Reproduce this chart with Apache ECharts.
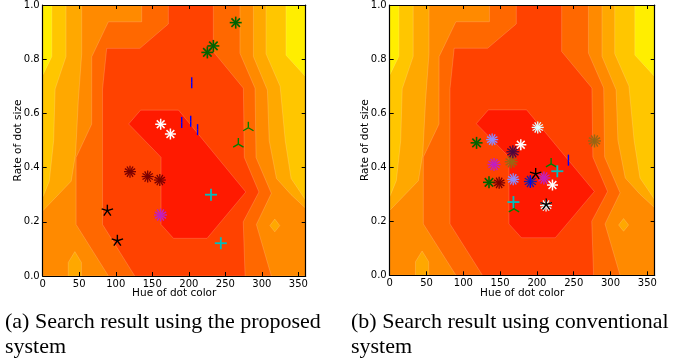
<!DOCTYPE html>
<html>
<head>
<meta charset="utf-8">
<script src="https://cdn.jsdelivr.net/npm/echarts/dist/echarts.min.js"></script>
<style>
html,body{margin:0;padding:0;background:#fff;}
#chart{width:686px;height:362px;}
</style>
</head>
<body>
<div id="chart"></div>
<script>
// ================= DATA =================
const hueMin = 0, hueMax = 360, hueStep = 50;
const rateMin = 0, rateMax = 1, rateStep = 0.2;
const xAxisTitle = 'Hue of dot color';
const yAxisTitle = 'Rate of dot size';
const captionA = ['(a) Search result using the proposed', 'system'];
const captionB = ['(b) Search result using conventional', 'system'];

// Contour field (same surface in both panels): outline [hue, rate] of the region
// whose value is at or above each contour level.
const levelAbove0 = [[0,0],[360,0],[360,1],[0,1]];
const levelAbove1 = [[0,0],[360,0],[360,0.735],[333,0.815],[333,1],[12.5,1],[12.5,0.81],[0,0.74]];
const levelAbove2 = [[0,0],[360,0],[360,0.28],[340,0.36],[332,0.5],[325,0.70],[305.7,0.82],[305.7,1],[31.9,1],[31.9,0.81],[17,0.69],[15,0.5],[9,0.35],[0,0.29]];
const levelAbove3 = [[0,0],[360,0],[360,0.25],[340,0.30],[320,0.36],[310,0.5],[307.6,0.686],[288.4,0.81],[288.4,1],[53.4,1],[53.4,0.82],[48.8,0.65],[45,0.45],[39,0.35],[0,0.24]];
const level3Pockets = [
  [[35,0],[35,0.05],[44,0.09],[53,0.05],[53,0]],
  [[311,0.186],[317.7,0.21],[324.5,0.186],[317.7,0.163]]
];
const levelAbove4 = [[90,0],[313,0],[292.5,0.19],[313,0.305],[292,0.4375],[290.7,0.693],[270,0.822],[270,1],[135.5,1],[135.5,0.938],[89.9,0.938],[67.1,0.809],[67,0.56],[45.7,0.4375],[45.7,0.19]];
const levelAbove5 = [[126,0],[277,0],[274.5,0.2],[296,0.31],[276,0.4375],[274.7,0.693],[233.6,0.828],[233.6,1],[172,1],[172,0.93],[133,0.84],[87.6,0.84],[81.9,0.69],[81.9,0.19]];
const levelAbove6 = [[117.7,0.561],[134,0.612],[186,0.612],[278,0.31],[225,0.139],[179,0.139],[162,0.19],[162,0.438]];

// (a) proposed system: search results [hue, rate]
const propDarkGreen = [[264.2,0.935],[233.6,0.849],[225.4,0.825]];
const propBlueBar   = [[204.0,0.713],[190.3,0.566],[202.6,0.571],[212.0,0.540]];
const propWhite     = [[161.5,0.560],[174.8,0.524]];
const propGreenTri  = [[281.5,0.547],[267.8,0.487]];
const propDarkRed   = [[119.5,0.385],[143.7,0.367],[160.3,0.354]];
const propCyanPlus  = [[230.4,0.300],[243.8,0.121]];
const propMagenta   = [[161.3,0.225]];
const propBlack     = [[88.5,0.241],[102.2,0.130]];

// (b) conventional system: search results [hue, rate]
const convDarkGreen = [[118.0,0.490],[134.9,0.344]];
const convPeriwinkle= [[139.2,0.502],[167.8,0.355]];
const convLightCyan = [[201.1,0.547],[212.4,0.258]];
const convWhite     = [[178.1,0.483],[221.1,0.334]];
const convPurple    = [[167.3,0.457]];
const convBrown     = [[165.1,0.420],[278.2,0.497]];
const convMagenta   = [[141.7,0.410],[209.5,0.360]];
const convGreenTri  = [[219.3,0.412],[168.8,0.246]];
const convCyanPlus  = [[227.7,0.385],[168.1,0.271]];
const convNavy      = [[191.1,0.347]];
const convBlueBar   = [[242.8,0.426],[191.1,0.347]];
const convBlack     = [[198.3,0.375],[212.6,0.262]];
const convDarkRed   = [[148.7,0.342]];

// ================= STYLE =================
const levelColors = ['#FFEE00','#FFC600','#FFA800','#FF8A00','#FF6800','#FF4200','#FF1A00'];
const contourLayers = [
  {pts: levelAbove0, c: 0}, {pts: levelAbove1, c: 1}, {pts: levelAbove2, c: 2},
  {pts: levelAbove3, c: 3},
  {pts: level3Pockets[0], c: 2}, {pts: level3Pockets[1], c: 2},
  {pts: levelAbove4, c: 4}, {pts: levelAbove5, c: 5}, {pts: levelAbove6, c: 6}
];
const mk = {
  darkGreen:  {shape:'ast', n:8,  r:6,   lw:1.6, color:'#006400'},
  blueBar:    {shape:'bar', r:5.5, lw:1.4, color:'#0000FF'},
  white:      {shape:'ast', n:8,  r:5.5, lw:1.5, color:'#FFFFFF'},
  greenTri:   {shape:'tri', r:6,   lw:1.4, color:'#008000'},
  darkRed:    {shape:'ast', n:12, r:6,   lw:1.3, color:'#7A0000'},
  cyanPlus:   {shape:'plus', r:6,  lw:1.8, color:'#00BFBF'},
  magenta:    {shape:'ast', n:12, r:6.5, lw:1.4, color:'#C020C0'},
  black:      {shape:'ast', n:5,  r:6,   lw:1.4, color:'#000000'},
  periwinkle: {shape:'ast', n:12, r:6,   lw:1.3, color:'#8C8CFF'},
  lightCyan:  {shape:'ast', n:12, r:6,   lw:1.3, color:'#E0FFFF'},
  purple:     {shape:'ast', n:12, r:6.5, lw:1.4, color:'#4A0A40'},
  brown:      {shape:'ast', n:12, r:6.5, lw:1.4, color:'#9A6614'},
  navy:       {shape:'ast', n:12, r:6.5, lw:1.4, color:'#1E1EA0'}
};
const panelA = [
  ['darkGreen', propDarkGreen], ['blueBar', propBlueBar], ['white', propWhite],
  ['greenTri', propGreenTri], ['darkRed', propDarkRed], ['cyanPlus', propCyanPlus],
  ['magenta', propMagenta], ['black', propBlack]
];
const panelB = [
  ['darkGreen', convDarkGreen], ['periwinkle', convPeriwinkle], ['lightCyan', convLightCyan],
  ['brown', convBrown], ['purple', convPurple], ['magenta', convMagenta],
  ['darkRed', convDarkRed], ['navy', convNavy], ['blueBar', convBlueBar],
  ['white', convWhite], ['greenTri', convGreenTri], ['cyanPlus', convCyanPlus],
  ['black', convBlack]
];

const FONT = '"DejaVu Sans", sans-serif';
const grids = [
  {left: 42.7, top: 5, width: 263, height: 271},
  {left: 389.7, top: 4.7, width: 265, height: 270.6}
];

function contourSeries(g) {
  return {
    type: 'custom', xAxisIndex: g * 2, yAxisIndex: g * 2, z: 1, silent: true, clip: true,
    data: contourLayers.map((l, i) => [i, 0]),
    renderItem: function (params, api) {
      const layer = contourLayers[params.dataIndex];
      const pts = layer.pts.map(p => api.coord(p));
      return {type: 'polygon', shape: {points: pts},
        style: {fill: levelColors[layer.c], stroke: 'rgba(255,255,255,0.28)', lineWidth: 0.6}};
    }
  };
}

function markerSeries(g, key, data) {
  const st = mk[key];
  return {
    type: 'custom', xAxisIndex: g * 2, yAxisIndex: g * 2, z: 3, silent: true, clip: false,
    data: data,
    renderItem: function (params, api) {
      const c = api.coord([api.value(0), api.value(1)]);
      const ch = [];
      const ls = {stroke: st.color, lineWidth: st.lw};
      const line = (a, r) => ch.push({type: 'line', shape: {x1: c[0], y1: c[1], x2: c[0] + r * Math.cos(a), y2: c[1] - r * Math.sin(a)}, style: ls});
      if (st.shape === 'ast') {
        for (let k = 0; k < st.n; k++) line(Math.PI / 2 + k * 2 * Math.PI / st.n, st.r);
      } else if (st.shape === 'tri') {
        line(Math.PI / 2, st.r); line(Math.PI / 2 + 2 * Math.PI / 3, st.r); line(Math.PI / 2 + 4 * Math.PI / 3, st.r);
      } else if (st.shape === 'plus') {
        for (let k = 0; k < 4; k++) line(k * Math.PI / 2, st.r);
      } else if (st.shape === 'bar') {
        line(Math.PI / 2, st.r); line(-Math.PI / 2, st.r);
      }
      return {type: 'group', children: ch};
    }
  };
}

const axisLineStyle = {show: true, onZero: false, lineStyle: {color: '#000', width: 1.2}};
const tickStyle = {show: true, inside: true, length: 4, lineStyle: {color: '#000', width: 1}};
const xAxes = [], yAxes = [];
[0, 1].forEach(g => {
  xAxes.push({
    gridIndex: g, type: 'value', position: 'bottom', min: hueMin, max: hueMax, interval: hueStep, z: 5,
    name: xAxisTitle, nameLocation: 'middle', nameGap: 12, nameMoveOverlap: false,
    nameTextStyle: {fontFamily: FONT, fontSize: 10.5, color: '#000'},
    axisLine: axisLineStyle, axisTick: tickStyle, splitLine: {show: false},
    axisLabel: {show: true, margin: 3, fontFamily: FONT, fontSize: 10, color: '#000',
      formatter: v => (v >= hueMax ? '' : String(v))}
  });
  xAxes.push({
    gridIndex: g, type: 'value', position: 'top', min: hueMin, max: hueMax, interval: hueStep, z: 5,
    axisLine: axisLineStyle, axisTick: tickStyle, splitLine: {show: false}, axisLabel: {show: false}
  });
  yAxes.push({
    gridIndex: g, type: 'value', position: 'left', min: rateMin, max: rateMax, interval: rateStep, z: 5,
    name: yAxisTitle, nameLocation: 'middle', nameGap: 18.5, nameMoveOverlap: false,
    nameTextStyle: {fontFamily: FONT, fontSize: 10.5, color: '#000'},
    axisLine: axisLineStyle, axisTick: tickStyle, splitLine: {show: false},
    axisLabel: {show: true, margin: 3, fontFamily: FONT, fontSize: 10, color: '#000',
      formatter: v => v.toFixed(1)}
  });
  yAxes.push({
    gridIndex: g, type: 'value', position: 'right', min: rateMin, max: rateMax, interval: rateStep, z: 5,
    axisLine: axisLineStyle, axisTick: tickStyle, splitLine: {show: false}, axisLabel: {show: false}
  });
});

const series = [contourSeries(0), contourSeries(1)];
panelA.forEach(([k, d]) => series.push(markerSeries(0, k, d)));
panelB.forEach(([k, d]) => series.push(markerSeries(1, k, d)));

const capFont = '"Liberation Serif", "Times New Roman", serif';
function capText(x, y, t) {
  return {type: 'text', x: x, y: y, style: {text: t, fontFamily: capFont, fontSize: 22, fill: '#000', verticalAlign: 'middle', align: 'left'}};
}

const chart = echarts.init(document.getElementById('chart'), null, {renderer: 'canvas'});
chart.setOption({
  animation: false,
  backgroundColor: '#fff',
  grid: grids,
  xAxis: xAxes,
  yAxis: yAxes,
  series: series,
  graphic: [
    capText(5, 322, captionA[0]), capText(5, 347, captionA[1]),
    capText(351, 322, captionB[0]), capText(351, 347, captionB[1])
  ]
});
</script>
</body>
</html>
